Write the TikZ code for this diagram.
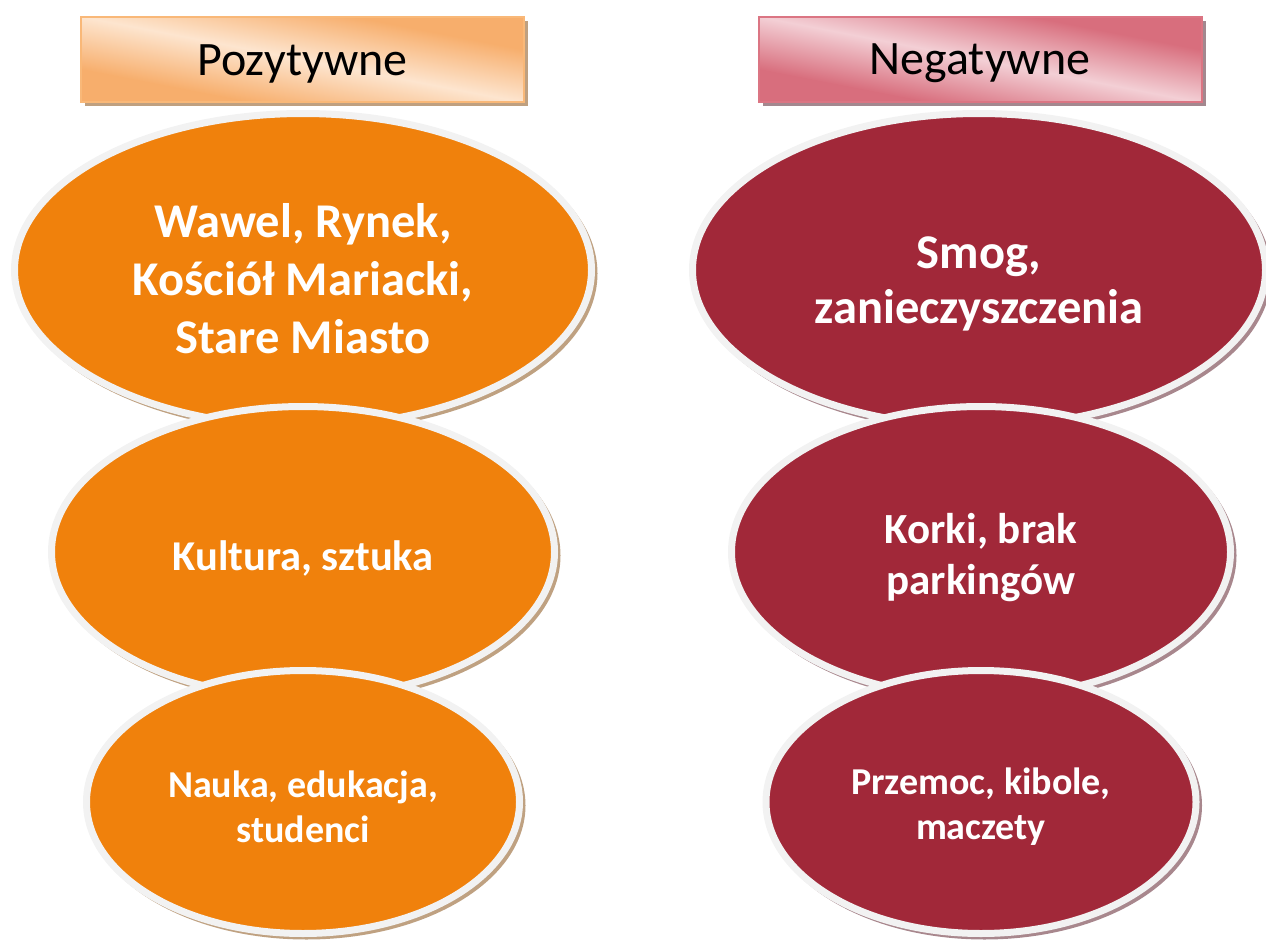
\documentclass[tikz,border=0pt]{standalone}
\usepackage{fontspec}
\setmainfont{Carlito}
\usetikzlibrary{shapes.geometric,shadows}
\definecolor{orfill}{HTML}{F0810C}
\definecolor{rdfill}{HTML}{A12839}
\definecolor{rim}{HTML}{F2F2F2}
\definecolor{orshadow}{HTML}{BFA181}
\definecolor{rdshadow}{HTML}{A8878D}
\definecolor{orlight}{HTML}{FDE5CF}
\definecolor{ordark}{HTML}{F7AE6C}
\definecolor{orborder}{HTML}{F9B878}
\definecolor{rdlight}{HTML}{F3CFD5}
\definecolor{rddark}{HTML}{D86E7D}
\definecolor{rdborder}{HTML}{DB7583}
\definecolor{hdshadowor}{HTML}{BFA080}
\definecolor{hdshadowrd}{HTML}{A3888F}
\tikzset{
  ovalbase/.style={ellipse, inner sep=0pt, draw=rim, line width=7pt},
  orangeoval/.style={ovalbase, fill=orfill,
    general shadow={fill=orshadow, draw=orshadow, line width=5pt, shadow xshift=3.5pt, shadow yshift=-3.5pt}},
  redoval/.style={ovalbase, fill=rdfill,
    general shadow={fill=rdshadow, draw=rdshadow, line width=5pt, shadow xshift=3.5pt, shadow yshift=-3.5pt}},
  ovaltext/.style={text=white, align=center, font=\bfseries},
  headbox/.style={rectangle, inner sep=0pt, minimum width=443pt, minimum height=85pt, line width=2pt},
  headtext/.style={text=black, font=\fontsize{48}{56}\selectfont},
  headshade/.style 2 args={path picture={
    \shade[top color=#1, bottom color=#1, middle color=#2,
      transform canvas={rotate around={-11:(path picture bounding box.center)}}]
      ([xshift=-270pt,yshift=-52pt]path picture bounding box.center) rectangle
      ([xshift=270pt,yshift=52pt]path picture bounding box.center);}},
  orhead/.style={headbox, draw=orborder, fill=ordark, headshade={ordark}{orlight},
    general shadow={fill=hdshadowor, shadow xshift=4pt, shadow yshift=-4pt}},
  rdhead/.style={headbox, draw=rdborder, fill=rddark, headshade={rddark}{rdlight},
    general shadow={fill=hdshadowrd, shadow xshift=4pt, shadow yshift=-4pt}},
}
\begin{document}
\begin{tikzpicture}[x=1pt,y=-1pt]
\useasboundingbox (0,0) rectangle (1266,942);
% headers
\node[orhead] (hpos) at (302.5,59.5) {};
\node[headtext] (hposlabel) at ([yshift=-4pt]hpos.center) {Pozytywne};
\node[rdhead] (hneg) at (980,59.5) {};
\node[headtext] (hneglabel) at ([yshift=-4pt]hneg.center) {Negatywne};
% left column
\node[orangeoval, minimum width=577pt, minimum height=313pt] (l1) at (303,270) {};
\node[ovaltext, font=\fontsize{48.5}{58}\selectfont\bfseries] (t1) at (303,279) {Wawel, Rynek,\\Kościół Mariacki,\\Stare Miasto};
\node[orangeoval, minimum width=503pt, minimum height=291pt] (l2) at (303,552) {};
\node[ovaltext, font=\fontsize{42.5}{51}\selectfont\bfseries] (t2) at (303,558) {Kultura, sztuka};
\node[orangeoval, minimum width=433pt, minimum height=263pt] (l3) at (303,802) {};
\node[ovaltext, font=\fontsize{38}{45}\selectfont\bfseries] (t3) at (303,807) {Nauka, edukacja,\\studenci};
% right column
\node[redoval, minimum width=573pt, minimum height=313pt] (r1) at (979,270) {};
\node[ovaltext, font=\fontsize{48.5}{55}\selectfont\bfseries] (s1) at (979,284) {Smog,\\zanieczyszczenia};
\node[redoval, minimum width=499pt, minimum height=291pt] (r2) at (981,552) {};
\node[ovaltext, font=\fontsize{43}{51}\selectfont\bfseries] (s2) at (981,558) {Korki, brak\\parkingów};
\node[redoval, minimum width=430pt, minimum height=263pt] (r3) at (981,802) {};
\node[ovaltext, font=\fontsize{38}{45}\selectfont\bfseries] (s3) at (981,807) {Przemoc, kibole,\\maczety};
\end{tikzpicture}
\end{document}
